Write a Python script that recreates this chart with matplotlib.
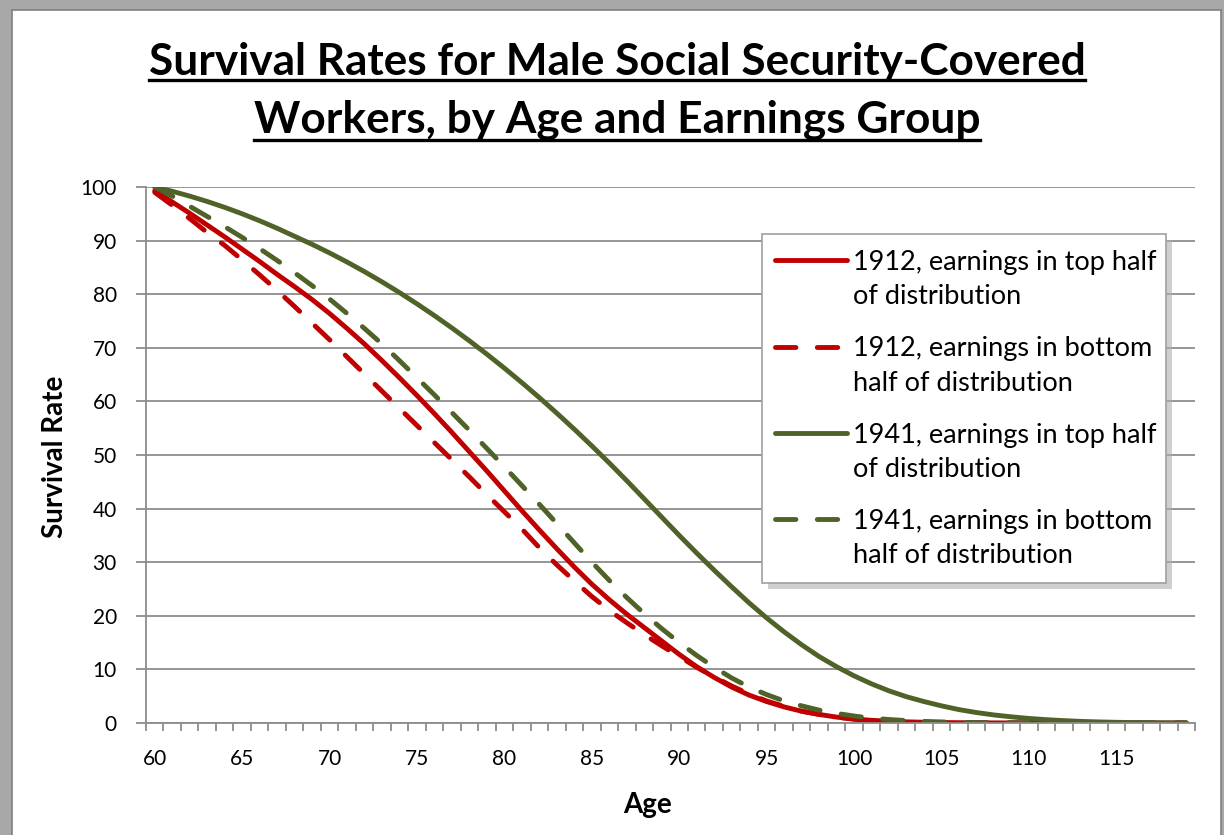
import numpy as np
import matplotlib.pyplot as plt
from matplotlib.patches import Rectangle
from matplotlib.lines import Line2D

plt.rcParams['font.family'] = ['Lato', 'DejaVu Sans']

# Age (one category per year)
ages = list(range(60, 120))

# Survival rate (%)
top_1912 = [99.3, 97.2, 95.1, 92.9, 90.7, 88.4, 86.1, 83.7, 81.4, 79.0,
            76.4, 73.6, 70.7, 67.6, 64.4, 61.1, 57.7, 54.2, 50.6, 47.0,
            43.3, 39.6, 36.0, 32.5, 29.1, 25.9, 23.0, 20.3, 17.8, 15.3,
            12.8, 10.5, 8.5, 6.7, 5.2, 4.0, 3.0, 2.2, 1.6, 1.1,
            0.75, 0.5, 0.33, 0.22, 0.14, 0.09, 0.06, 0.04, 0.02, 0.01,
            0.01, 0, 0, 0, 0, 0, 0, 0, 0, 0]
bottom_1912 = [99.0, 96.6, 94.1, 91.5, 89.1, 86.4, 83.6, 80.7, 77.7, 74.6,
               71.5, 68.3, 65.1, 61.9, 58.7, 55.5, 52.3, 49.1, 45.9, 42.6,
               39.4, 36.2, 32.7, 29.5, 26.5, 23.6, 21.0, 18.7, 16.5, 14.4,
               12.4, 10.4, 8.6, 6.9, 5.4, 4.1, 3.1, 2.2, 1.6, 1.1,
               0.7, 0.45, 0.3, 0.18, 0.11, 0.07, 0.04, 0.02, 0.01, 0.01,
               0, 0, 0, 0, 0, 0, 0, 0, 0, 0]
top_1941 = [100, 99.2, 98.3, 97.3, 96.2, 95.0, 93.7, 92.3, 90.8, 89.3,
            87.7, 86.0, 84.2, 82.3, 80.3, 78.2, 76.0, 73.7, 71.3, 68.8,
            66.2, 63.5, 60.7, 57.8, 54.8, 51.7, 48.5, 45.2, 41.8, 38.4,
            35.0, 31.7, 28.5, 25.4, 22.4, 19.6, 17.0, 14.6, 12.4, 10.5,
            8.8, 7.3, 6.0, 4.9, 4.0, 3.2, 2.5, 1.95, 1.5, 1.15,
            0.85, 0.62, 0.44, 0.3, 0.2, 0.13, 0.08, 0.05, 0.03, 0.02]
bottom_1941 = [100, 98.3, 96.4, 94.5, 92.6, 90.6, 88.5, 86.3, 84.0, 81.6,
               79.1, 76.4, 73.6, 70.7, 67.6, 64.4, 61.2, 57.9, 54.6, 51.2,
               47.8, 44.3, 40.8, 37.2, 33.6, 30.0, 26.6, 23.4, 20.4, 17.6,
               15.0, 12.6, 10.4, 8.4, 6.7, 5.3, 4.1, 3.2, 2.4, 1.8,
               1.3, 0.9, 0.65, 0.45, 0.3, 0.2, 0.13, 0.08, 0.05, 0.03,
               0.02, 0.01, 0.01, 0, 0, 0, 0, 0, 0, 0]

labels = ['1912, earnings in top half\nof distribution',
          '1912, earnings in bottom\nhalf of distribution',
          '1941, earnings in top half\nof distribution',
          '1941, earnings in bottom\nhalf of distribution']

red = '#C00000'
green = '#4F6228'
grey = '#8C8C8C'

W, H = 1224, 835
fig = plt.figure(figsize=(W / 100, H / 100), dpi=100)
fig.patch.set_facecolor('#a8a8a8')
fig.add_artist(Rectangle((12 / W, -0.01), (1221 - 12) / W, (H - 10) / H + 0.01,
                         transform=fig.transFigure, facecolor='white',
                         edgecolor='#808080', lw=1.2, zorder=-10))

ax = fig.add_axes([146 / W, 1 - 723 / H, (1195 - 146) / W, (723 - 187) / H])
ax.patch.set_alpha(0)

lw = 3.5
dash = (4.2, 4.4)
styles = [dict(color=red), dict(color=red, dashes=dash),
          dict(color=green), dict(color=green, dashes=dash)]
series = [top_1912, bottom_1912, top_1941, bottom_1941]
for ys, st, lab in zip(series, styles, labels):
    ax.plot(ages, ys, lw=lw, solid_capstyle='round', dash_capstyle='round',
            label=lab, **st)

ax.set_xlim(59.5, 119.5)
ax.set_ylim(0, 100)
ax.set_yticks(range(0, 101, 10))
ax.set_xticks(range(60, 116, 5))
ax.set_xticks(np.arange(59.5, 120, 1), minor=True)
ax.tick_params(axis='y', labelsize=15, length=7, width=1.3, color=grey, pad=14)
ax.tick_params(axis='x', which='major', labelsize=15, length=0, pad=19)
ax.tick_params(axis='x', which='minor', length=6, width=1.3, color=grey)
ax.yaxis.grid(True, color=grey, lw=1.3)
ax.set_axisbelow(True)
for s in ['top', 'right']:
    ax.spines[s].set_visible(False)
for s in ['left', 'bottom']:
    ax.spines[s].set_color(grey)
    ax.spines[s].set_linewidth(1.3)

fig.text(55 / W, 1 - 457 / H, 'Survival Rate', rotation=90, ha='center',
         va='center', fontsize=20, fontweight='bold')
fig.text(648 / W, 1 - 805 / H, 'Age', ha='center', va='center',
         fontsize=20, fontweight='bold')

# Legend box (Excel style: handle next to the first line of each label)
bx0, bx1, by0, by1 = 762, 1166, 234, 583
fig.add_artist(Rectangle(((bx0 + 6) / W, 1 - (by1 + 6) / H), (bx1 - bx0) / W,
                         (by1 - by0) / H, transform=fig.transFigure,
                         facecolor='#b0b0b0', edgecolor='none', alpha=0.6, zorder=4))
fig.add_artist(Rectangle((bx0 / W, 1 - by1 / H), (bx1 - bx0) / W, (by1 - by0) / H,
                         transform=fig.transFigure, facecolor='white',
                         edgecolor='#a0a0a0', lw=1.2, zorder=5))
for i, (st, lab) in enumerate(zip(styles, labels)):
    base = 270 + i * 86.3
    hy = 1 - (base - 9.5) / H
    fig.add_artist(Line2D([775 / W, 847 / W], [hy, hy], transform=fig.transFigure,
                          lw=lw, solid_capstyle='round', dash_capstyle='round',
                          zorder=6, **st))
    for j, line in enumerate(lab.split('\n')):
        fig.text(853 / W, 1 - (base + j * 34.5) / H, line, ha='left',
                 va='baseline', fontsize=19.5, zorder=6)

# Title, two centred lines, underlined
t1 = fig.text(617 / W, 1 - 75 / H, 'Survival Rates for Male Social Security-Covered',
              ha='center', va='baseline', fontsize=31.8, fontweight='bold')
t2 = fig.text(617 / W, 1 - 133 / H, 'Workers, by Age and Earnings Group',
              ha='center', va='baseline', fontsize=31.8, fontweight='bold')
fig.canvas.draw()
r = fig.canvas.get_renderer()
for t, uy in [(t1, 80), (t2, 140)]:
    bb = t.get_window_extent(r)
    fig.add_artist(Line2D([bb.x0 / W, bb.x1 / W], [1 - uy / H, 1 - uy / H],
                          transform=fig.transFigure, color='black', lw=2.4))

fig.savefig('out.png', dpi=100)
